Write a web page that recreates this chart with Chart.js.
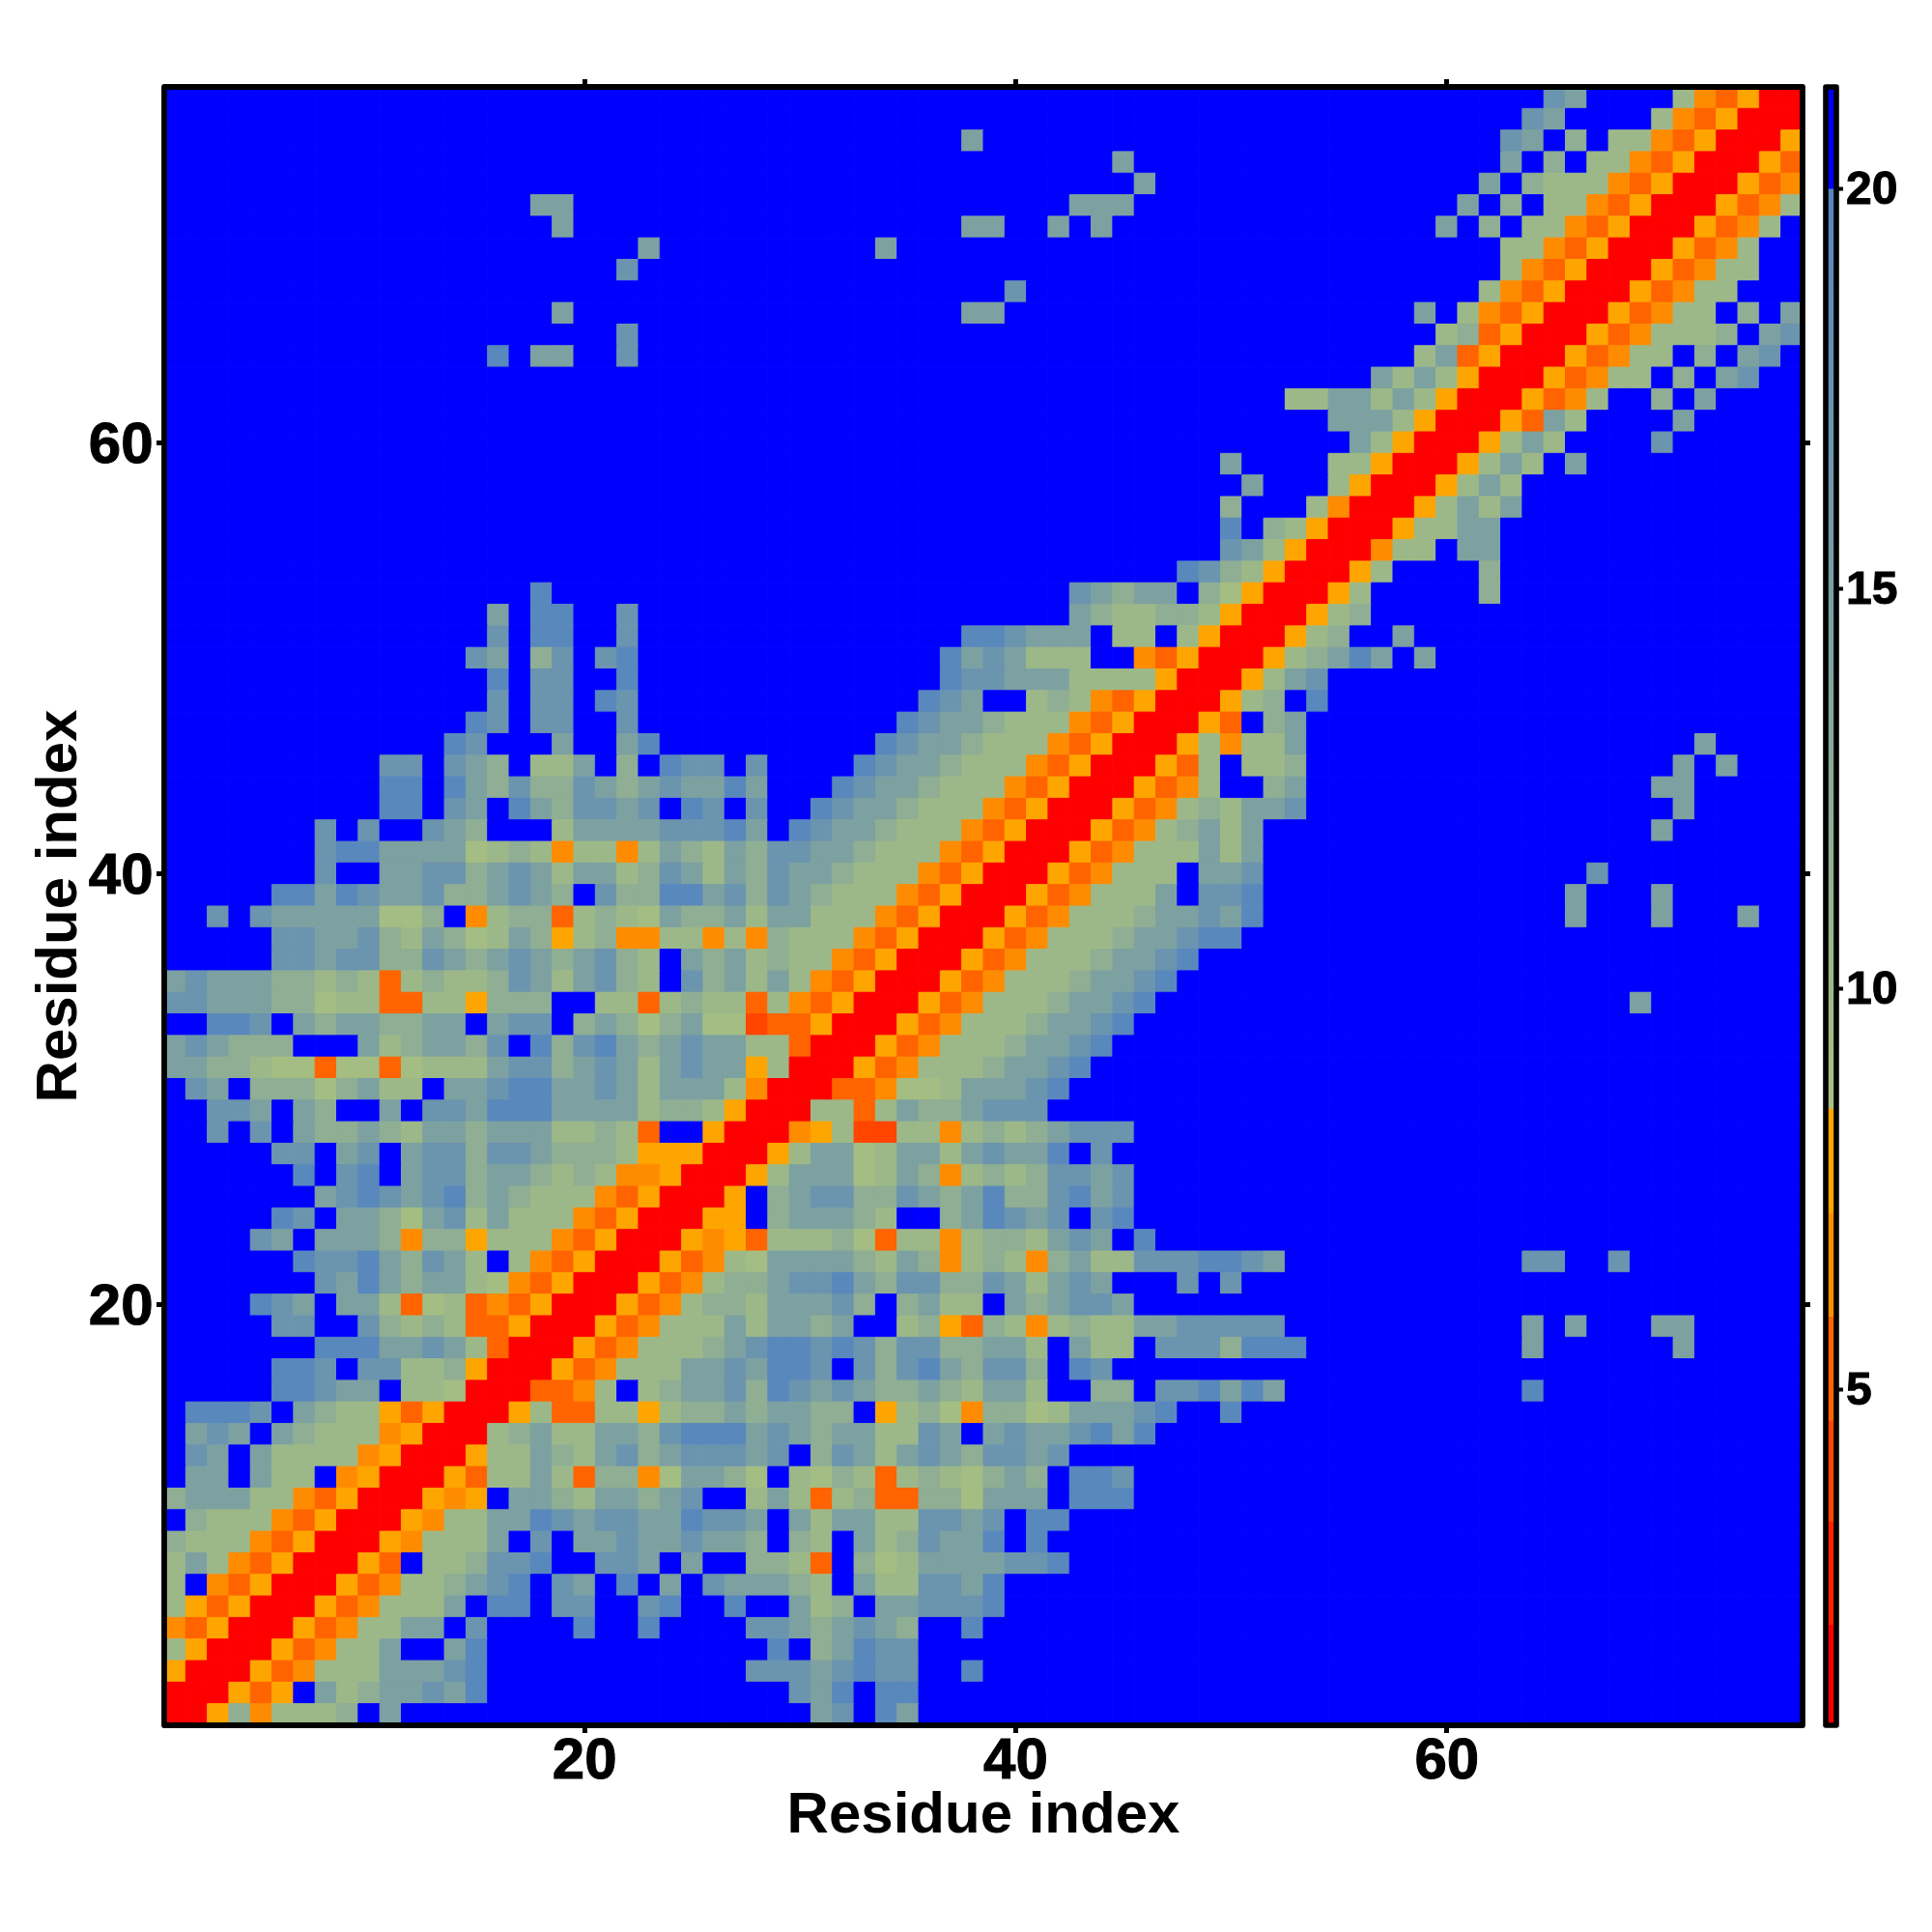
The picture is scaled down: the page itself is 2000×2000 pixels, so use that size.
<!DOCTYPE html>
<html><head><meta charset="utf-8">
<style>html,body{margin:0;padding:0;background:#fff}
#wrap{position:relative;width:2000px;height:2000px}
canvas{position:absolute;top:0}
#main{left:0}#bar{left:1880px}</style>
<script src="https://cdn.jsdelivr.net/npm/chart.js@4"></script></head>
<body><div id="wrap"><canvas id="main" width="2000" height="2000"></canvas><canvas id="bar" width="120" height="2000"></canvas></div>
<script>
const axisTicks=[20,40,60];
const colorbarTicks=[5,10,15,20];
const axisTitle="Residue index";
const residues=76;
// Estimated value of each colour class
const levels={'.':20.6,R:1.5,Q:4,O:5.2,N:6.5,Y:7.8,a:9,g:10,h:12,t:14.5,u:17,s:19.5};
// Colour bands of the colour bar: [from, to, colour]
const bands=[[0.8,2.05,'#ff0000'],[2.05,3.34,'#ff2200'],[3.34,4.6,'#ff4500'],[4.6,5.9,'#ff6400'],[5.9,7.2,'#ff8c00'],[7.2,8.5,'#ffa500'],[20,21.27,'#0000ff']];
const rampFrom=[8.5,[168,192,128]];
const rampTo=[20,[85,133,192]];
// Rows from residue 76 (top) to 1 (bottom): columns 1-25 | 26-50 | 51-76, trailing blue omitted
const rows=[
"||..............ut....gNOYRR",
"||.............ut....gNOYRRR",
"|............t|............ut.h.ggNOYRRRY",
"|...................t|............t.h.ggNOYRRRYO",
"|....................t|...........t.hgggNOYRRRYON",
".................tt|.................ttt|..........t.h.ggNOYRRRYONg",
"..................t|............tt..t.t|.........t.h.ggNOYRRRYONg.",
"......................t|........t|............ggNOYRRRYONg",
".....................u||............gNOYRRRYONgg",
"|..............u|...........gNOYRRRYONgg",
"..................t|............tt|........t.gNOYRRRYONgg.h.t",
".....................u||.........ghOYRRRYONgggh.tu",
"...............s.tt..u||........gtOYRRRYONgg.h.tu.",
"||......tgtgYRRRYONgg.h.tu",
"||..ggttgtgYRRRYONg..h.t",
"||....tttgYRRRYOtg....t",
"||.....tgYRRRYgtg....u",
"|........................t|....ggYRRRYgtg.t",
"||t...gYRRRYgtg",
"|........................h|...gNRRRYgtgt",
"|........................s|.hgYRRRYggtt",
"|........................u|tgYRRRNgg.tt",
"|......................suh|gYRRRYg....h",
".................s|.................uthtt.ha|YRRRYg.....h",
"...............t.ss..u|.................thgghhgY|RRRYgh",
"...............u.ss..u|............ssuttt.gg.gYR|RRYgh..t",
"..............ut.hu.us|...........stutggg..NOYRR|RYghtst.t",
"...............s.uu..s|...........suutttggggYRRR|Ygtu",
"...............u.uu.su|..........sut..ghgNOYRRRY|gh.s",
"..............su.uu..u|.........sutthgggNOYRRRYO|.ht",
".............su...t..ts|........sutthgggNOYRRRYgN|ggt..................t",
"..........uu.uth.ggt.h.su|u.u....sutthgggNOYRRRYOg.|ggh.................t.t",
"..........ss.sthuhhuthtut|tst...sutthgggNOYRRRYONg.|.ht................tt",
"..........ss.ut.sthuutu.s|u.u..sutthgggNOYRRRYONghg|ttu.................t",
".......u.u..uth...gttttuu|ust.sutthgggNOYRRRYONghtg|t..................t",
".......ussttttaghgNggNgth|gthuutthgggNOYRRRYONgggtg|t",
".......u..ttuuhtutgttghut|gthutthgggNOYRRRYONggg.tt|u...............u",
".....sstsuttuhhtuth.uhhss|tuhuthgggNOYRRRYONgggt.uu|s..............t...t",
"..u.utttttaah.NghhOghgath|htgttgggNOYRRRYONggghttut|s..............t...t...t",
".....uuttuhgthagthYghNNgg|NgNhgggNOYRRRYONggghttuss",
".....uutuuhhuthtuthtuhg.t|htghggNOYRRRYONggghttus",
"tuttthhghgOghgghutgtuhg.u|htgtgNOYRRRYONggghttus",
"uuttthhaggOOggYhhh..ggOgh|ggOgNOYRRRYONggghttus|..................t",
"..ssu.thtthhtt.tuu.hthaht|aaQOOYRRRYONggghttus",
"tuthhh...tghtthu.shusthtu|ttggORRRYONggghttus",
"tthhgaaOaaOagggtuuhtutgtu|ttYgRRRYONggghttus",
".ut.hhhahtgg.ttussttutgtt|tgNRRROONaagtttus",
"..uut.th..t.uutsssttttghh|gYRRRggOgthhtuuu",
"..u.u.thhthgtthtttgghgO..|YRRRNYgQQggNghghtuuu",
".....uu.tu.tuuhuuthhhgYYY|RRRYgttagttgtutts.u",
"......s.us.tuuhtthghgNNYR|RRYgtttagthNghghuutu",
".......tusutushthgggNOYRR|RY.htuuhhuthtshhustu",
".....su.tthatugtgggNOYRRR|YY.httthg..htsutu.us",
"....ut.ttthNhhYgggNOYRRRY|NYOggghaOggNghhgtut.s",
"......suusthutg.gNOYRRRYO|NgatttthgthNghgNhtgguuuss|ut...........uu..u",
".......utsthttgaNOYRRRYON|ghhtuusthuuhhutgtut...u.u",
"....sut.ttgOagONOYRRRYONg|hhgtttuh.htgg.thtuut",
".....uu..uhghgOOYRRRYONgg|gtgttht..ghYOhgNghggttuuu|uu...........t.t...tt",
".......sssttutgORRRYONggg|htussusuhuuhhttg.tgg.uuuh|sss..........t......t",
".....ssu.uugghYRRRYONgggt|tutssu.uhusthuuh.su",
".....ssutt.ggaRRROONg.ght|tuhsututhhthgttg..hh.uust|st...........s",
".sssu.thggYOYRRRYgOOggYgh|hthtthh.YghaNhhagtttus..s",
".tut.thgggNYRRRghtggtthus|sstuthttggut.tuttusts",
".ut.tggggNYRRRYggthgtuhtu|uutu.hutgtuthuutu",
".tt.tgg.NYRRRYOggtgOhhNat|tha.gahgOghgahth.ssu",
"htttggNOYRRRYNY.tthgtthtu|..gtgOghOOhhattt.sss",
".hgggNOYRRRYNggttsutuutts|uut.tgttgguutu.ss",
"hgggNOYRRRYNgggt.u.ttuttu|tth.hg.tghutts.s",
"gtgNOYRRRYO.gghuus..uut.t|..hhgO.hagttttuus",
"g.NOYRRRYONgghtus.ut.s.t.|uttthg.tgguuts",
"gYOYRRRYONgggt.ss.uu..us.|.s..tgh.ttuuus",
"NOYRRRYONggtt.u....s..s|..uuthtuth..s",
"gYRRRYONggt..ts|...s.htsuu",
"YRRRYONgggtttus|..uuutusuu..s",
"RRRYOY.tghttuts|....uts.ss",
"RRYhNgggh.t|.....tu.st"
];

function colorOf(v){
  for(const b of bands) if(v>=b[0]&&v<b[1]) return b[2];
  const k=Math.min(1,Math.max(0,(v-rampFrom[0])/(rampTo[0]-rampFrom[0])));
  const c=rampFrom[1].map((f,i)=>Math.round(f+(rampTo[1][i]-f)*k));
  return `rgb(${c[0]},${c[1]},${c[2]})`;
}
const cells=[],cellColors=[];
rows.forEach((line,ri)=>{
  const p=line.split('|');
  const full=(p[0]||'').padEnd(25,'.')+(p[1]||'').padEnd(25,'.')+(p[2]||'').padEnd(26,'.');
  if(full.length!==residues) console.error('row length',residues-ri,full.length);
  for(let c=0;c<residues;c++){
    const v=levels[full[c]];
    cells.push({x:c+1,y:residues-ri,v});
    cellColors.push(colorOf(v));
  }
});

const FONT='"Liberation Sans",Arial,sans-serif';
const fixTicks=list=>s=>{s.ticks=list.map(v=>({value:v}));};
const frame=(id,lw)=>({id,afterDraw(chart){
  const a=chart.chartArea,c=chart.ctx;c.save();c.strokeStyle='#000';c.lineWidth=lw;c.lineJoin='round';
  c.strokeRect(a.left,a.top,a.right-a.left,a.bottom-a.top);c.restore();}});
const markGrid={drawOnChartArea:false,drawTicks:true,tickLength:8,tickWidth:5,tickColor:'#000',z:1};
const span={min:0.5,max:76.5};

new Chart(document.getElementById('main'),{
  type:'scatter',
  data:{datasets:[{data:cells,pointStyle:'rect',backgroundColor:cellColors,borderColor:cellColors,borderWidth:1,
    pointRadius:ctx=>{const x=ctx.chart.scales.x;return Math.abs(x.getPixelForValue(2)-x.getPixelForValue(1))*Math.SQRT1_2;},
    pointHoverRadius:0}]},
  plugins:[frame('frameMain',5.8)],
  options:{responsive:false,animation:false,events:[],devicePixelRatio:1,
    layout:{padding:0},
    plugins:{legend:{display:false},tooltip:{enabled:false},title:{display:false}},
    scales:{
      x:{type:'linear',position:'bottom',...span,afterBuildTicks:fixTicks(axisTicks),afterFit:s=>{s.height=214;},
        border:{display:false},grid:markGrid,
        ticks:{color:'#000',font:{family:FONT,size:60,weight:'bold'},padding:-5.5,maxRotation:0,autoSkip:false,textStrokeColor:'#000',textStrokeWidth:1,callback:v=>String(v)},
        title:{display:true,text:axisTitle,color:'#000',font:{family:FONT,size:60,weight:'bold'},padding:{top:0,bottom:84}}},
      y:{type:'linear',position:'left',...span,afterBuildTicks:fixTicks(axisTicks),afterFit:s=>{s.width=170;},
        border:{display:false},grid:markGrid,
        ticks:{color:'#000',font:{family:FONT,size:60,weight:'bold'},padding:3.5,labelOffset:4,autoSkip:false,textStrokeColor:'#000',textStrokeWidth:1,callback:v=>String(v)},
        title:{display:true,text:axisTitle,color:'#000',font:{family:FONT,size:60,weight:'bold'},padding:{top:26.5,bottom:0}}},
      x2:{type:'linear',axis:'x',position:'top',...span,afterBuildTicks:fixTicks(axisTicks),afterFit:s=>{s.height=90;},
        border:{display:false},grid:markGrid,ticks:{display:false}},
      y2:{type:'linear',axis:'y',position:'right',...span,afterBuildTicks:fixTicks(axisTicks),afterFit:s=>{s.width=134;},
        border:{display:false},grid:markGrid,ticks:{display:false}}
    }}
});

const rampFill=ctx=>{
  const ch=ctx.chart,y=ch.scales.y;
  if(!ch.chartArea) return '#a8c080';
  const g=ch.ctx.createLinearGradient(0,y.getPixelForValue(rampFrom[0]),0,y.getPixelForValue(rampTo[0]));
  g.addColorStop(0,`rgb(${rampFrom[1].join(',')})`);g.addColorStop(1,`rgb(${rampTo[1].join(',')})`);
  return g;
};
new Chart(document.getElementById('bar'),{
  type:'bar',
  data:{labels:['scale'],datasets:[
    ...bands.map(b=>({data:[[b[0],b[1]]],backgroundColor:b[2]})),
    {data:[[rampFrom[0],rampTo[0]]],backgroundColor:rampFill}
  ]},
  plugins:[frame('frameBar',5.6)],
  options:{responsive:false,animation:false,events:[],devicePixelRatio:1,
    datasets:{bar:{grouped:false,barPercentage:1,categoryPercentage:1,borderWidth:0}},
    layout:{padding:{left:10,top:90,bottom:214}},
    plugins:{legend:{display:false},tooltip:{enabled:false}},
    scales:{
      x:{display:false},
      y:{type:'linear',position:'right',min:0.8,max:21.27,afterBuildTicks:fixTicks(colorbarTicks),afterFit:s=>{s.width=99;},
        border:{display:false},grid:{drawOnChartArea:false,drawTicks:true,tickLength:7,tickWidth:4,tickColor:'#000',z:1},
        ticks:{color:'#000',font:{family:FONT,size:48,weight:'bold'},padding:3,labelOffset:2.5,autoSkip:false,textStrokeColor:'#000',textStrokeWidth:1,callback:v=>String(v)}}
    }}
});
</script></body></html>
